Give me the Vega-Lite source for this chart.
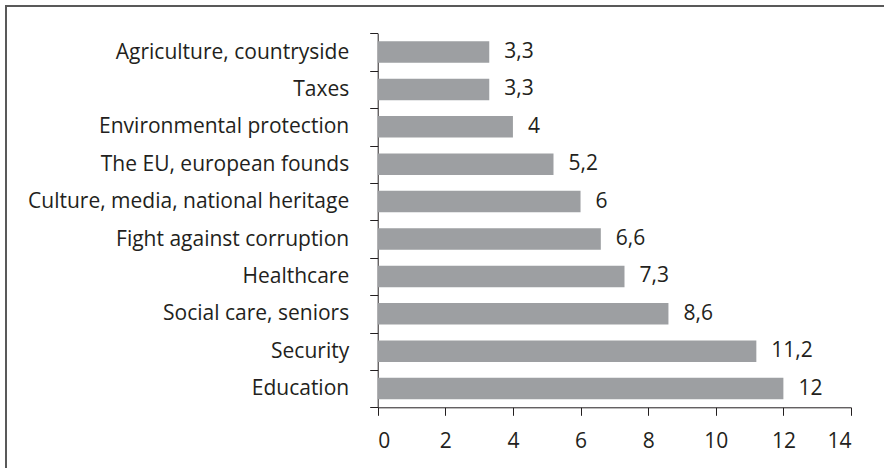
{
  "$schema": "https://vega.github.io/schema/vega-lite/v6.json",
  "autosize": {"type": "none"},
  "padding": {"left": 6, "top": 6, "right": 0, "bottom": 0},
  "width": 880,
  "height": 464,
  "background": "white",
  "config": {
    "locale": {"number": {"decimal": ",", "thousands": " ", "grouping": [3], "currency": ["", ""]}},
    "view": {"stroke": "#595959", "strokeWidth": 2},
    "font": "Open Sans",
    "axis": {"grid": false, "domainColor": "#231f20", "tickColor": "#231f20", "labelColor": "#231f20", "labelFont": "Open Sans", "labelFontSize": 21, "tickSize": 8, "domainWidth": 1, "tickWidth": 1}
  },
  "data": {
    "values": [
      {"topic": "Agriculture, countryside", "value": 3.3},
      {"topic": "Taxes", "value": 3.3},
      {"topic": "Environmental protection", "value": 4},
      {"topic": "The EU, european founds", "value": 5.2},
      {"topic": "Culture, media, national heritage", "value": 6},
      {"topic": "Fight against corruption", "value": 6.6},
      {"topic": "Healthcare", "value": 7.3},
      {"topic": "Social care, seniors", "value": 8.6},
      {"topic": "Security", "value": 11.2},
      {"topic": "Education", "value": 12}
    ]
  },
  "encoding": {
    "y": {
      "field": "topic", "type": "nominal", "sort": null,
      "scale": {"range": [27.3, 401.3], "paddingInner": 0, "paddingOuter": 0},
      "axis": {"title": null, "offset": -371.7, "tickBand": "extent", "labelPadding": 21, "labelLimit": 400}
    },
    "x": {
      "field": "value", "type": "quantitative",
      "scale": {"domain": [0, 14], "nice": false, "range": [371.7, 845]},
      "axis": {"title": null, "offset": -62.7, "values": [0, 2, 4, 6, 8, 10, 12, 14], "labelPadding": 15, "format": "d"}
    }
  },
  "layer": [
    {"mark": {"type": "bar", "color": "#9d9fa2", "height": {"band": 0.575}}},
    {
      "mark": {"type": "text", "align": "left", "baseline": "middle", "dx": 15, "fontSize": 21, "font": "Open Sans", "color": "#231f20"},
      "encoding": {"text": {"field": "value", "type": "quantitative", "format": ".1~f"}}
    }
  ]
}
